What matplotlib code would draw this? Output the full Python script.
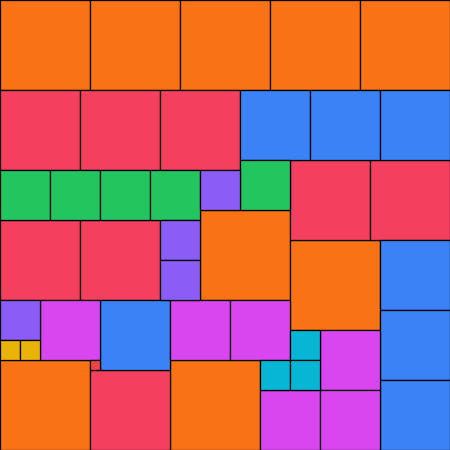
import matplotlib
matplotlib.use("Agg")
import matplotlib.pyplot as plt
from matplotlib.patches import Rectangle

# Square sizes (side length) and their fill colours
sizes = [90, 80, 70, 60, 50, 40, 30, 20, 10]
colors = ['#f97316', '#f43f5e', '#3b82f6', '#d946ef', '#22c55e',
          '#8b5cf6', '#06b6d4', '#eab308', '#ef4444']

# Top-left corners of each square, grouped by size
corners = {
    90: [(0, 0), (90, 0), (180, 0), (270, 0), (360, 0),
         (200, 210), (290, 240), (0, 360), (170, 360)],
    80: [(0, 90), (80, 90), (160, 90), (290, 160), (370, 160),
         (0, 220), (80, 220), (90, 370)],
    70: [(240, 90), (310, 90), (380, 90), (380, 240), (100, 300),
         (380, 310), (380, 380)],
    60: [(40, 300), (170, 300), (230, 300), (320, 330), (260, 390), (320, 390)],
    50: [(0, 170), (50, 170), (100, 170), (150, 170), (240, 160)],
    40: [(200, 170), (160, 220), (160, 260), (0, 300)],
    30: [(290, 330), (260, 360), (290, 360)],
    20: [(0, 340), (20, 340)],
    10: [(90, 360)],
}

fig = plt.figure(figsize=(4.5, 4.5), dpi=100)
ax = fig.add_axes([0, 0, 1, 1])

for size, color in zip(sizes, colors):
    for x, y in corners[size]:
        ax.add_patch(Rectangle((x, y), size, size, facecolor=color,
                               edgecolor='black', linewidth=0.9))

ax.set_xlim(0, 450)
ax.set_ylim(450, 0)
ax.set_aspect('equal')
ax.axis('off')

fig.savefig('out.png', dpi=100)
